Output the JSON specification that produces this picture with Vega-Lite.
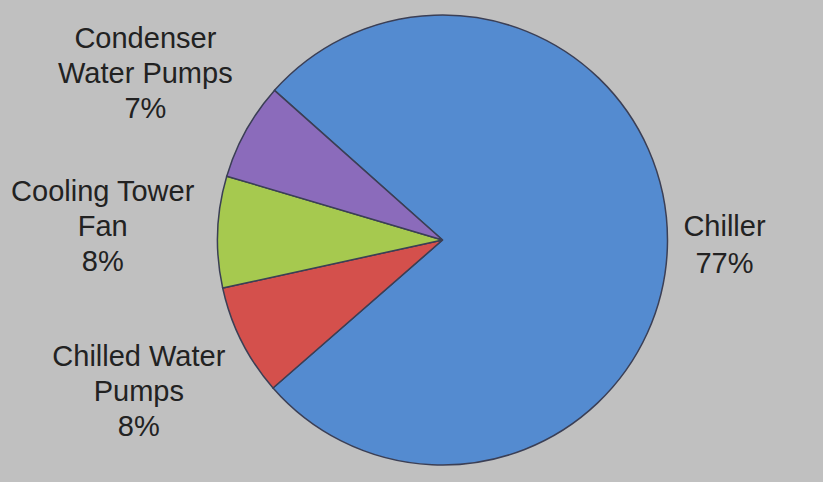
{
  "$schema": "https://vega.github.io/schema/vega-lite/v6.json",
  "width": 761,
  "height": 480,
  "autosize": "none",
  "padding": {"left": 62, "right": 0, "top": 0, "bottom": 2},
  "background": "#c0c0c0",
  "view": {"stroke": null},
  "data": {
    "values": [
      {"k": 1, "name": "Chiller", "value": 77, "lines": 2, "label": ["Chiller", "77%"]},
      {"k": 2, "name": "Chilled Water Pumps", "value": 8, "lines": 3, "label": ["Chilled Water", "Pumps", "8%"]},
      {"k": 3, "name": "Cooling Tower Fan", "value": 8, "lines": 3, "label": ["Cooling  Tower", "Fan", "8%"]},
      {"k": 4, "name": "Condenser Water Pumps", "value": 7, "lines": 3, "label": ["Condenser", "Water Pumps", "7%"]}
    ]
  },
  "encoding": {
    "theta": {"field": "value", "type": "quantitative", "stack": true, "scale": {"range": [5.44, 11.723]}},
    "order": {"field": "k", "type": "quantitative", "sort": "ascending"}
  },
  "layer": [
    {
      "mark": {"type": "arc", "outerRadius": 225, "stroke": "#3b3f55", "strokeWidth": 1.5},
      "encoding": {
        "color": {
          "field": "name",
          "type": "nominal",
          "legend": null,
          "scale": {
            "domain": ["Chiller", "Chilled Water Pumps", "Cooling Tower Fan", "Condenser Water Pumps"],
            "range": ["#548bd0", "#d4504c", "#a6c94f", "#8b6bbb"]
          }
        }
      }
    },
    {
      "mark": {"type": "text", "radius": 340, "dy": -36, "font": "Liberation Sans", "fontSize": 29, "fill": "#222222", "align": "center", "baseline": "middle", "lineHeight": 35},
      "encoding": {"text": {"condition": {"test": "datum.lines == 3", "field": "label"}, "value": ""}}
    },
    {
      "mark": {"type": "text", "radius": 282, "dy": -14, "font": "Liberation Sans", "fontSize": 29, "fill": "#222222", "align": "center", "baseline": "middle", "lineHeight": 37},
      "encoding": {"text": {"condition": {"test": "datum.lines == 2", "field": "label"}, "value": ""}}
    }
  ]
}
